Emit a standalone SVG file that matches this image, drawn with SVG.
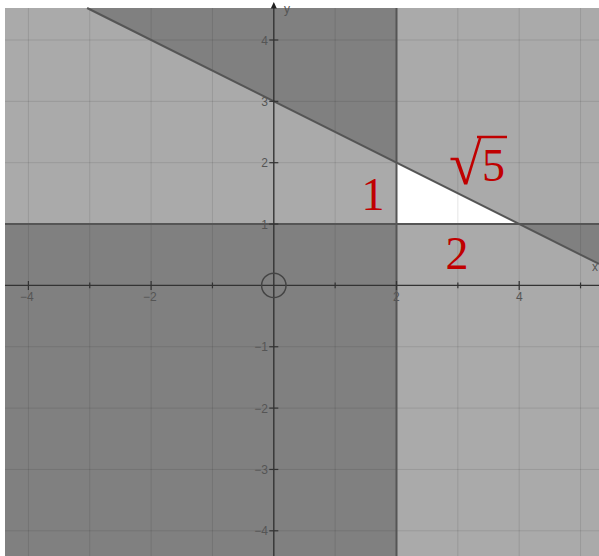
<svg xmlns="http://www.w3.org/2000/svg" width="599" height="556" viewBox="0 0 599 556">
  <style>
    .light{fill:#aaaaaa}
    .dark{fill:#808080}
    .grid{stroke:#000;stroke-opacity:0.1;stroke-width:1}
    .bound{stroke:#555;stroke-width:2;fill:none}
    .axis{stroke:#333;stroke-width:1.4;fill:none}
    .tick{stroke:#333;stroke-width:1.2}
    .num{font-family:"Liberation Sans",Arial,sans-serif;font-size:12px;fill:#555}
    .numy{font-family:"Liberation Sans",Arial,sans-serif;font-size:12px;fill:#555;text-anchor:end}
    .lbl{font-family:"Liberation Serif","Times New Roman",serif;font-size:46px;fill:#c00000;text-anchor:middle}
    .rad{font-family:"Liberation Serif","Times New Roman",serif;font-size:46px;fill:#c00000}
  </style>
  <rect x="0" y="0" width="599" height="556" fill="#ffffff"/>
  <g id="regions">
    <rect class="light" x="5" y="8" width="594" height="548"/>
    <polygon class="dark" points="87.1,8 396.5,8 396.5,162.7"/>
    <rect class="dark" x="5" y="224.05" width="391.5" height="331.95"/>
    <polygon class="dark" points="519.2,224.05 599,224.05 599,263.95"/>
    <polygon fill="#ffffff" points="396.5,162.7 396.5,224.05 519.2,224.05"/>
  </g>
  <g id="grid">
    <line class="grid" x1="28.4" y1="8" x2="28.4" y2="556"/>
    <line class="grid" x1="89.75" y1="8" x2="89.75" y2="556"/>
    <line class="grid" x1="151.1" y1="8" x2="151.1" y2="556"/>
    <line class="grid" x1="212.45" y1="8" x2="212.45" y2="556"/>
    <line class="grid" x1="335.15" y1="8" x2="335.15" y2="556"/>
    <line class="grid" x1="457.85" y1="8" x2="457.85" y2="556"/>
    <line class="grid" x1="519.2" y1="8" x2="519.2" y2="556"/>
    <line class="grid" x1="580.55" y1="8" x2="580.55" y2="556"/>
    <line class="grid" x1="5" y1="40" x2="599" y2="40"/>
    <line class="grid" x1="5" y1="101.35" x2="599" y2="101.35"/>
    <line class="grid" x1="5" y1="162.7" x2="599" y2="162.7"/>
    <line class="grid" x1="5" y1="224.05" x2="599" y2="224.05"/>
    <line class="grid" x1="5" y1="346.75" x2="599" y2="346.75"/>
    <line class="grid" x1="5" y1="408.1" x2="599" y2="408.1"/>
    <line class="grid" x1="5" y1="469.45" x2="599" y2="469.45"/>
    <line class="grid" x1="5" y1="530.8" x2="599" y2="530.8"/>
  </g>
  <g id="boundaries">
    <line class="bound" x1="87.1" y1="8" x2="599" y2="263.95"/>
    <line class="bound" x1="396.5" y1="8" x2="396.5" y2="556"/>
    <line class="bound" x1="5" y1="224.05" x2="599" y2="224.05"/>
  </g>
  <g id="axes">
    <line class="axis" x1="5" y1="285.4" x2="599" y2="285.4"/>
    <line class="axis" x1="273.8" y1="7" x2="273.8" y2="556"/>
    <polygon points="273.8,2 270.8,8.5 276.8,8.5" fill="#222"/>
    <g class="tick">
      <line x1="28.4" y1="281" x2="28.4" y2="290"/>
      <line x1="89.75" y1="282.5" x2="89.75" y2="288.3"/>
      <line x1="151.1" y1="281" x2="151.1" y2="290"/>
      <line x1="212.45" y1="282.5" x2="212.45" y2="288.3"/>
      <line x1="335.15" y1="282.5" x2="335.15" y2="288.3"/>
      <line x1="396.5" y1="281" x2="396.5" y2="290"/>
      <line x1="457.85" y1="282.5" x2="457.85" y2="288.3"/>
      <line x1="519.2" y1="281" x2="519.2" y2="290"/>
      <line x1="580.55" y1="282.5" x2="580.55" y2="288.3"/>
      <line x1="269.3" y1="40" x2="278.3" y2="40"/>
      <line x1="269.3" y1="101.35" x2="278.3" y2="101.35"/>
      <line x1="269.3" y1="162.7" x2="278.3" y2="162.7"/>
      <line x1="269.3" y1="224.05" x2="278.3" y2="224.05"/>
      <line x1="269.3" y1="346.75" x2="278.3" y2="346.75"/>
      <line x1="269.3" y1="408.1" x2="278.3" y2="408.1"/>
      <line x1="269.3" y1="469.45" x2="278.3" y2="469.45"/>
      <line x1="269.3" y1="530.8" x2="278.3" y2="530.8"/>
    </g>
    <text class="num" x="20" y="301">−4</text>
    <text class="num" x="143" y="301">−2</text>
    <text class="num" x="393" y="301">2</text>
    <text class="num" x="516" y="301">4</text>
    <text class="numy" x="268" y="44.5">4</text>
    <text class="numy" x="268" y="105.8">3</text>
    <text class="numy" x="268" y="167.2">2</text>
    <text class="numy" x="268" y="228.5">1</text>
    <text class="numy" x="268" y="351.2">−1</text>
    <text class="numy" x="268" y="412.6">−2</text>
    <text class="numy" x="268" y="473.9">−3</text>
    <text class="numy" x="268" y="535.3">−4</text>
    <text class="num" x="592" y="271" font-size="13">x</text>
    <text class="num" x="284" y="13" font-size="13">y</text>
    <circle cx="273.8" cy="285.4" r="12.2" fill="none" stroke="#444" stroke-width="1.5"/>
  </g>
  <g id="labels">
    <text class="lbl" x="373" y="210">1</text>
    <text class="lbl" x="457" y="269">2</text>
    <text class="rad"><tspan x="449" y="184" font-size="60">√</tspan><tspan x="482" y="181">5</tspan></text>
    <line x1="477" y1="137" x2="507" y2="137" stroke="#c00000" stroke-width="2.5"/>
  </g>
</svg>
